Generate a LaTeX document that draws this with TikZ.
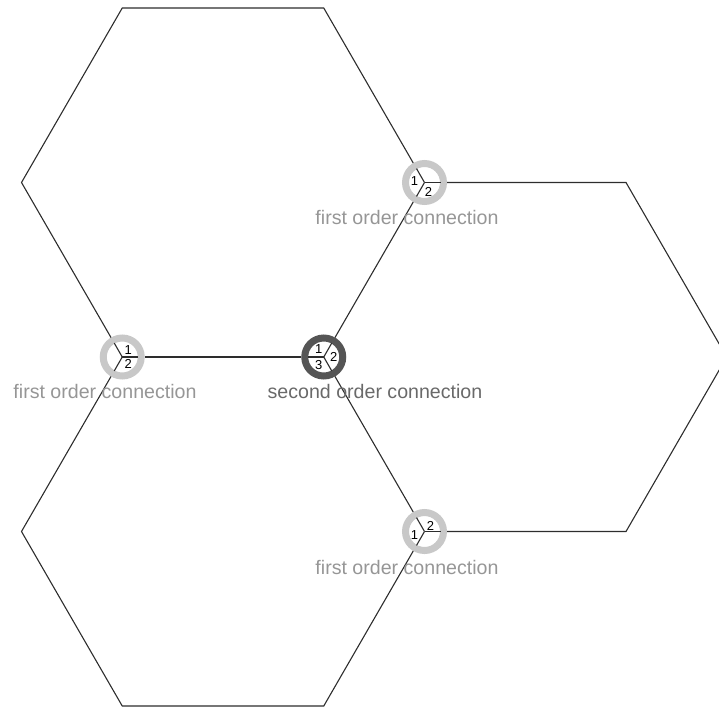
\documentclass[tikz,border=0pt]{standalone}
\usepackage{fontspec}
\setmainfont{Liberation Sans}
\usetikzlibrary{calc}
\definecolor{ringlight}{RGB}{200,200,200}
\definecolor{ringdark}{RGB}{85,85,85}
\definecolor{lblone}{RGB}{150,150,150}
\definecolor{lbltwo}{RGB}{105,105,105}
\definecolor{edgecol}{RGB}{45,45,45}
\begin{document}
\begin{tikzpicture}[x=1pt,y=-1pt,
  hexline/.style={draw=edgecol, line width=1.1pt},
  conn/.style={circle, draw=ringlight, line width=7pt, fill=white, minimum size=38pt, inner sep=0pt},
  conntwo/.style={conn, draw=ringdark},
  yline/.style={draw=edgecol, line width=1.1pt},
  num/.style={font=\fontsize{13}{13}\selectfont, inner sep=0pt, text=black},
  lbl/.style={font=\fontsize{19.6}{19.6}\selectfont, text=lblone, inner sep=0pt, anchor=base},
  lbltwostyle/.style={lbl, text=lbltwo}]
\useasboundingbox (0,0) rectangle (719,709);
\clip (0,0) rectangle (719,709);
% vertices
\coordinate (a1) at (122.25,8);
\coordinate (a2) at (323.75,8);
\coordinate (a6) at (21.5,182.5);
\coordinate (b2) at (626,182.5);
\coordinate (b3) at (726.75,357);
\coordinate (b4) at (626,531.5);
\coordinate (c4) at (323.75,706);
\coordinate (c5) at (122.25,706);
\coordinate (c6) at (21.5,531.5);
% connection nodes
\node[conn] (n1) at (424.5,182.5) {};
\node[conn] (n2) at (122.25,357) {};
\node[conntwo] (n3) at (323.75,357) {};
\node[conn] (n4) at (424.5,531.5) {};
% hexagon edges
\draw[hexline] (n2) -- (a6) -- (a1) -- (a2) -- (n1);
\draw[hexline] (n1) -- (n3);
\draw[hexline] (n3) -- (n2);
\draw[hexline] (n1) -- (b2) -- (b3) -- (b4) -- (n4);
\draw[hexline] (n4) -- (n3);
\draw[hexline] (n2) -- (c6) -- (c5) -- (c4) -- (n4);
% inner Y marks
\foreach \n in {n1,n2,n4}{
  \draw[yline] (\n.center) -- ++(-8,-13.9);
  \draw[yline] (\n.center) -- ++(-8,13.9);
  \draw[yline] (\n.center) -- ++(16,0);
}
\draw[yline] (n3.center) -- ++(-16,0);
\draw[yline] (n3.center) -- ++(8,-13.9);
\draw[yline] (n3.center) -- ++(8,13.9);
% numbers
\node[num] (n1a) at ($(n1)+(-10,-1)$) {1};
\node[num] (n1b) at ($(n1)+(4,9)$) {2};
\node[num] (n2a) at ($(n2)+(6,-7)$) {1};
\node[num] (n2b) at ($(n2)+(6,7)$) {2};
\node[num] (n3a) at ($(n3)+(-5,-8)$) {1};
\node[num] (n3b) at ($(n3)+(10,0)$) {2};
\node[num] (n3c) at ($(n3)+(-5,8)$) {3};
\node[num] (n4a) at ($(n4)+(-10,4)$) {1};
\node[num] (n4b) at ($(n4)+(6,-6)$) {2};
% labels
\node[lbl] (l1) at (407,224) {first order connection};
\node[lbl] (l2) at (105,398.5) {first order connection};
\node[lbltwostyle] (l3) at (375,398.5) {second order connection};
\node[lbl] (l4) at (407,574) {first order connection};
\end{tikzpicture}
\end{document}
